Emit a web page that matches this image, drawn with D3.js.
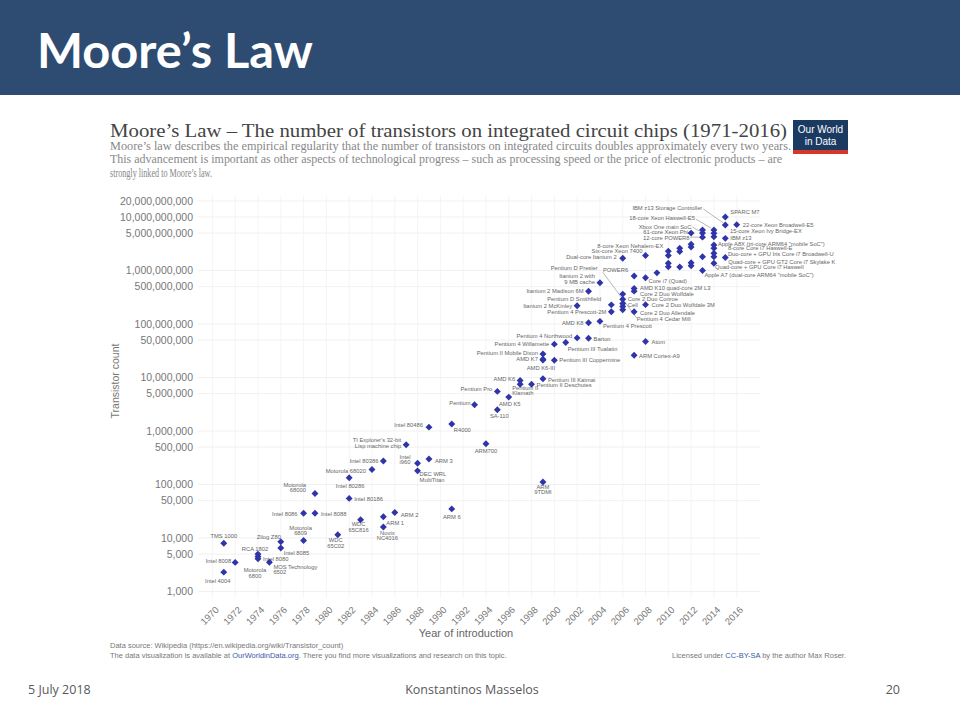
<!DOCTYPE html>
<html>
<head>
<meta charset="utf-8">
<script src="https://cdn.jsdelivr.net/npm/d3@7"></script>
<style>
  body { margin: 0; background: #fff; }
  svg { display: block; }
</style>
</head>
<body>
<script>
// chips: year of introduction, transistor count, name
var years = [
  1971, 1971, 1972, 1974, 1974, 1974, 1975, 1976, 1976, 1978, 1978, 1979, 1979,
  1981, 1982, 1982, 1983, 1984, 1985, 1985, 1985, 1986, 1987, 1988, 1988, 1989,
  1989, 1991, 1991, 1993, 1994, 1995, 1995, 1996, 1997, 1997, 1998, 1999, 1999,
  1999, 1999, 1999, 2000, 2000, 2001, 2002, 2002, 2003, 2003, 2003, 2004, 2004,
  2005, 2005, 2006, 2006, 2006, 2006, 2006, 2006, 2007, 2007, 2007, 2007, 2007,
  2008, 2008, 2008, 2008, 2009, 2010, 2010, 2010, 2010, 2011, 2011, 2011, 2012,
  2012, 2012, 2012, 2012, 2013, 2013, 2013, 2013, 2013, 2014, 2014, 2014, 2014,
  2014, 2014, 2014, 2014, 2015, 2015, 2015, 2015, 2016
];
var counts = [
  2300, 8000, 3500, 5000, 4500, 4100, 3510, 8500, 6500, 9000, 29000, 29000, 68000,
  11500, 55000, 134000, 22000, 190000, 275000, 25000, 16000, 30000, 553000, 250000, 180000, 300000,
  1180000, 1350000, 35000, 3100000, 578977, 5500000, 2500000, 4300000, 7500000, 8800000, 7500000, 9500000, 111000,
  22000000, 27400000, 21300000, 21000000, 42000000, 45000000, 55000000, 220000000, 54300000, 105900000, 410000000, 112000000, 592000000,
  228000000, 169000000, 362000000, 291000000, 241000000, 212000000, 184000000, 1700000000, 789000000, 463000000, 411000000, 169000000, 26000000,
  1900000000, 731000000, 230000000, 47000000, 904000000, 2300000000, 1900000000, 1370000000, 1170000000, 2600000000, 2270000000, 1160000000, 5000000000,
  3100000000, 2750000000, 1400000000, 1230000000, 5700000000, 5000000000, 4200000000, 1810000000, 1000000000, 5700000000, 4960000000, 4280000000, 3000000000,
  2600000000, 2100000000, 1810000000, 1370000000, 10000000000, 7100000000, 3990000000, 1750000000, 7200000000
];
var names = [
  'Intel 4004', 'TMS 1000', 'Intel 8008', 'RCA 1802', 'Intel 8080', 'Motorola 6800', 'MOS Technology 6502',
  'Zilog Z80', 'Intel 8085', 'Motorola 6809', 'Intel 8086', 'Intel 8088', 'Motorola 68000',
  'WDC 65C02', 'Intel 80186', 'Intel 80286', 'WDC 65C816', 'Motorola 68020', 'Intel 80386', 'ARM 1',
  'Novix NC4016', 'ARM 2', "TI Explorer's 32-bit Lisp machine chip", 'Intel i960', 'DEC WRL MultiTitan', 'ARM 3',
  'Intel 80486', 'R4000', 'ARM 6', 'Pentium', 'ARM700', 'Pentium Pro', 'SA-110', 'AMD K5', 'Pentium II Klamath',
  'AMD K6', 'Pentium II Deschutes', 'Pentium III Katmai', 'ARM 9TDMI',
  'AMD K7', 'Pentium II Mobile Dixon', 'AMD K6-III', 'Pentium III Coppermine', 'Pentium 4 Willamette',
  'Pentium III Tualatin', 'Pentium 4 Northwood', 'Itanium 2 McKinley', 'Barton', 'AMD K8', 'Itanium 2 Madison 6M',
  'Pentium 4 Prescott', 'Itanium 2 with 9 MB cache',
  'Pentium D Smithfield', 'Pentium 4 Prescott-2M', 'Pentium D Presler', 'Core 2 Duo Conroe', 'Cell', 'Xenon',
  'Pentium 4 Cedar Mill', 'Dual-core Itanium 2', 'POWER6', 'AMD K10 quad-core 2M L3', 'Core 2 Duo Wolfdale',
  'Core 2 Duo Allendale', 'ARM Cortex-A9',
  'Six-core Xeon 7400', 'Core i7 (Quad)', 'Core 2 Duo Wolfdale 3M', 'Atom', 'Six-core Opteron 2400',
  '8-core Xeon Nehalem-EX', 'Quad-core Itanium Tukwila', 'POWER7', 'Six-core Core i7 (Gulftown)',
  '10-core Xeon Westmere-EX', 'Six-core Core i7/8-core Xeon E5', 'Quad-core + GPU Core i7 Sandy Bridge', '61-core Xeon Phi',
  '8-core Itanium Poulson', 'Six-core zEC12', 'Quad-core + GPU Core i7 Ivy Bridge', 'Dual-core + GPU Core i7 Ivy Bridge',
  '18-core Xeon Haswell-E5 (2013)', 'Xbox One main SoC', '12-core POWER8', 'Six-core Core i7 Ivy Bridge E',
  'Apple A7 (dual-core ARM64 "mobile SoC")', '18-core Xeon Haswell-E5', '15-core Xeon Haswell', '15-core Xeon Ivy Bridge-EX',
  'Apple A8X (tri-core ARM64 "mobile SoC")',
  '8-core Core i7 Haswell-E', 'Duo-core + GPU Iris Core i7 Broadwell-U', 'Six-core Core i7 Haswell-E', 'Quad-core + GPU Core i7 Haswell',
  'SPARC M7', 'IBM z13 Storage Controller', 'IBM z13', 'Quad-core + GPU GT2 Core i7 Skylake K', '22-core Xeon Broadwell-E5'
];

var yTicks = [1e3, 5e3, 1e4, 5e4, 1e5, 5e5, 1e6, 5e6, 1e7, 5e7, 1e8, 5e8, 1e9, 5e9, 1e10, 2e10];
var xTicks = [1970, 1972, 1974, 1976, 1978, 1980, 1982, 1984, 1986, 1988, 1990, 1992,
  1994, 1996, 1998, 2000, 2002, 2004, 2006, 2008, 2010, 2012, 2014, 2016];

// where each name label sits next to its marker: dx, dy, anchor, lines, leader
var labelPos = {
  'Intel 4004': [-6, 9, 'middle'],
  'TMS 1000': [0, -7, 'middle'],
  'Intel 8008': [-4, -1, 'end'],
  'RCA 1802': [-3, -5, 'middle'],
  'Intel 8080': [5, 2, 'start'],
  'Motorola 6800': [-3, 14, 'middle', ['Motorola', '6800']],
  'MOS Technology 6502': [4, 7, 'start', ['MOS Technology', '6502']],
  'Zilog Z80': [-12, -5, 'middle'],
  'Intel 8085': [3, 5, 'start'],
  'Motorola 6809': [-3, -10, 'middle', ['Motorola', '6809']],
  'Intel 8086': [-6, 1, 'end'],
  'Intel 8088': [6, 1, 'start'],
  'Motorola 68000': [-9, -6, 'end', ['Motorola', '68000']],
  'WDC 65C02': [-2, 8, 'middle', ['WDC', '65C02']],
  'Intel 80186': [5, 1, 'start'],
  'Intel 80286': [1, 8, 'middle'],
  'WDC 65C816': [-2, 7, 'middle', ['WDC', '65C816']],
  'Motorola 68020': [-6, 1, 'end'],
  'Intel 80386': [-5, 0, 'end'],
  'ARM 1': [3, 6, 'start'],
  'Novix NC4016': [4, 8, 'middle', ['Novix', 'NC4016']],
  'ARM 2': [6, 2, 'start'],
  "TI Explorer's 32-bit Lisp machine chip": [-5, -2, 'end', ["TI Explorer's 32-bit", 'Lisp machine chip']],
  'Intel i960': [-7, -4, 'end', ['Intel', 'i960']],
  'DEC WRL MultiTitan': [2, 6, 'start', ['DEC WRL', 'MultiTitan']],
  'ARM 3': [6, 2, 'start'],
  'Intel 80486': [-6, -2, 'end'],
  'R4000': [2, 6, 'start'],
  'ARM 6': [0, 8, 'middle'],
  'Pentium': [-4, -2, 'end'],
  'ARM700': [0, 7, 'middle'],
  'Pentium Pro': [-5, -2, 'end'],
  'SA-110': [2, 6, 'middle'],
  'AMD K5': [1, 7, 'middle'],
  'Pentium II Klamath': [-8, 6, 'start', ['Pentium II', 'Klamath']],
  'AMD K6': [-5, -2, 'end'],
  'Pentium II Deschutes': [5, 1, 'start'],
  'Pentium III Katmai': [5, 1, 'start'],
  'ARM 9TDMI': [0, 7, 'middle', ['ARM', '9TDMI']],
  'AMD K7': [-5, 0, 'end'],
  'Pentium II Mobile Dixon': [-5, -1, 'end'],
  'AMD K6-III': [-2, 8, 'middle'],
  'Pentium III Coppermine': [5, 0, 'start'],
  'Pentium 4 Willamette': [-5, 0, 'end'],
  'Pentium III Tualatin': [2, 6, 'start'],
  'Pentium 4 Northwood': [-5, -2, 'end'],
  'Itanium 2 McKinley': [-5, 0, 'end'],
  'Barton': [5, 1, 'start'],
  'AMD K8': [-5, 0, 'end'],
  'Itanium 2 Madison 6M': [-5, 0, 'end'],
  'Pentium 4 Prescott': [3, 5, 'start'],
  'Itanium 2 with 9 MB cache': [-5, -4, 'end', ['Itanium 2 with', '9 MB cache']],
  'Pentium D Smithfield': [-10, -6, 'end'],
  'Pentium 4 Prescott-2M': [-5, 0, 'end'],
  'Pentium D Presler': [-25, -26, 'end', null, [-20, -22, 14, 24]],
  'Core 2 Duo Conroe': [5, 0, 'start'],
  'Cell': [5, 1, 'start'],
  'Pentium 4 Cedar Mill': [14, 9, 'start'],
  'Dual-core Itanium 2': [-6, -1, 'end'],
  'POWER6': [-6, -6, 'end'],
  'AMD K10 quad-core 2M L3': [6, 0, 'start'],
  'Core 2 Duo Wolfdale': [6, 3, 'start'],
  'Core 2 Duo Allendale': [6, 1, 'start'],
  'ARM Cortex-A9': [5, 1, 'start'],
  'Six-core Xeon 7400': [-3, -5, 'end'],
  'Core i7 (Quad)': [3, 3, 'start'],
  'Core 2 Duo Wolfdale 3M': [6, 0, 'start'],
  'Atom': [6, 0, 'start'],
  '8-core Xeon Nehalem-EX': [-5, -5, 'end'],
  '61-core Xeon Phi': [-3, -1, 'end'],
  'Xbox One main SoC': [-11, -6, 'end', null, [-10, -6, -3, -2]],
  '12-core POWER8': [-13, 1, 'end', null, [-12, 0, -3, 0]],
  'Apple A7 (dual-core ARM64 "mobile SoC")': [2, 4, 'start'],
  '18-core Xeon Haswell-E5': [-19, -12, 'end', null, [-18, -11, -3, -2]],
  '15-core Xeon Ivy Bridge-EX': [16, -6, 'start'],
  'Apple A8X (tri-core ARM64 "mobile SoC")': [4, -1, 'start'],
  '8-core Core i7 Haswell-E': [14, 0, 'start'],
  'Duo-core + GPU Iris Core i7 Broadwell-U': [14, 1, 'start'],
  'Quad-core + GPU Core i7 Haswell': [1, 3.5, 'start'],
  'SPARC M7': [5, -5, 'start'],
  'IBM z13 Storage Controller': [-23, -17, 'end', null, [-22, -16, -2, -2]],
  'IBM z13': [5, 0, 'start'],
  'Quad-core + GPU GT2 Core i7 Skylake K': [3, 4, 'start'],
  '22-core Xeon Broadwell-E5': [6, 0, 'start']
};

var W = 960, H = 720;
var svg = d3.select('body').append('svg').attr('width', W).attr('height', H);

// slide header
svg.append('rect').attr('x', 0).attr('y', 0).attr('width', W).attr('height', 95).attr('fill', '#2e4b71');
svg.append('text')
  .attr('x', 37).attr('y', 68)
  .attr('font-family', 'Lato, "Open Sans", sans-serif')
  .attr('font-weight', 'bold')
  .attr('font-size', 47)
  .attr('fill', '#fff')
  .attr('textLength', 276)
  .attr('lengthAdjust', 'spacingAndGlyphs')
  .text('Moore\u2019s Law');

// chart title + subtitle
svg.append('text')
  .attr('x', 110).attr('y', 137)
  .attr('font-family', '"Liberation Serif", "DejaVu Serif", serif')
  .attr('font-size', 19)
  .attr('fill', '#444')
  .attr('textLength', 677)
  .attr('lengthAdjust', 'spacingAndGlyphs')
  .text('Moore\u2019s Law \u2013 The number of transistors on integrated circuit chips (1971-2016)');

var sub = [
  ['Moore\u2019s law describes the empirical regularity that the number of transistors on integrated circuits doubles approximately every two years.', 681],
  ['This advancement is important as other aspects of technological progress \u2013 such as processing speed or the price of electronic products \u2013 are', 672],
  ['strongly linked to Moore\u2019s law.', 102]
];
sub.forEach(function (s, i) {
  svg.append('text')
    .attr('x', 110).attr('y', 149.5 + i * 13.5)
    .attr('font-family', '"Liberation Serif", serif')
    .attr('font-size', 11.5)
    .attr('fill', '#888')
    .attr('textLength', s[1])
    .attr('lengthAdjust', 'spacingAndGlyphs')
    .text(s[0]);
});

// OWID logo
var logo = svg.append('g').attr('transform', 'translate(793,120)');
logo.append('rect').attr('width', 55).attr('height', 34).attr('fill', '#1b3a61');
logo.append('rect').attr('y', 30).attr('width', 55).attr('height', 4).attr('fill', '#d4382b');
logo.append('text').attr('x', 27.5).attr('y', 13).attr('text-anchor', 'middle')
  .attr('font-family', '"Liberation Sans Narrow", "Liberation Sans", sans-serif')
  .attr('font-size', 10).attr('fill', '#fff').text('Our World');
logo.append('text').attr('x', 27.5).attr('y', 25).attr('text-anchor', 'middle')
  .attr('font-family', '"Liberation Sans Narrow", "Liberation Sans", sans-serif')
  .attr('font-size', 10).attr('fill', '#fff').text('in Data');

// scales
var x = d3.scaleLinear().domain([1969, 2018]).range([201, 759.5]);
var y = d3.scaleLog().domain([1e3, 1e10]).range([591.5, 217]);
var gridTop = y(2e10) - 5, gridBottom = 598;

var grid = svg.append('g');
grid.selectAll('.hg').data(yTicks).enter().append('line')
  .attr('x1', 198).attr('x2', 760)
  .attr('y1', function (d) { return y(d); })
  .attr('y2', function (d) { return y(d); })
  .attr('stroke', '#eeeeee').attr('stroke-width', 0.8);
grid.selectAll('.vg').data(xTicks).enter().append('line')
  .attr('y1', gridTop).attr('y2', gridBottom)
  .attr('x1', function (d) { return x(d); })
  .attr('x2', function (d) { return x(d); })
  .attr('stroke', '#f1f1f1').attr('stroke-width', 0.8);

// y axis
var yAxis = svg.append('g')
  .attr('transform', 'translate(198,0)')
  .call(d3.axisLeft(y).tickValues(yTicks).tickSize(0).tickPadding(5).tickFormat(d3.format(',')));
yAxis.select('.domain').remove();
yAxis.selectAll('text')
  .attr('font-family', '"Liberation Sans", Arial, sans-serif')
  .attr('font-size', 10.5)
  .attr('fill', '#777');

svg.append('text')
  .attr('transform', 'translate(119,381) rotate(-90)')
  .attr('text-anchor', 'middle')
  .attr('font-family', '"Liberation Sans", Arial, sans-serif')
  .attr('font-size', 10.5)
  .attr('fill', '#777')
  .text('Transistor count');

// x axis
var xAxis = svg.append('g')
  .attr('transform', 'translate(0,600)')
  .call(d3.axisBottom(x).tickValues(xTicks).tickSize(0).tickFormat(d3.format('d')));
xAxis.select('.domain').remove();
xAxis.selectAll('text')
  .attr('font-family', '"Liberation Sans", Arial, sans-serif')
  .attr('font-size', 9.5)
  .attr('fill', '#777')
  .attr('text-anchor', 'end')
  .attr('dy', '0.35em')
  .attr('transform', 'translate(2,6) rotate(-45)');

svg.append('text')
  .attr('x', 466).attr('y', 637)
  .attr('text-anchor', 'middle')
  .attr('font-family', '"Liberation Sans", Arial, sans-serif')
  .attr('font-size', 11)
  .attr('fill', '#666')
  .text('Year of introduction');

// points
var data = years.map(function (yr, i) {
  return { year: yr, count: counts[i], name: names[i] };
});

var labels = svg.append('g')
  .attr('font-family', '"Liberation Sans", Arial, sans-serif')
  .attr('font-size', 5.8)
  .attr('fill', '#666');

data.forEach(function (d) {
  var p = labelPos[d.name];
  if (!p) return;
  var px = x(d.year), py = y(d.count);
  if (p[4]) {
    labels.append('line')
      .attr('x1', px + p[4][0]).attr('y1', py + p[4][1])
      .attr('x2', px + p[4][2]).attr('y2', py + p[4][3])
      .attr('stroke', '#999').attr('stroke-width', 0.7);
  }
  var lines = p[3] || [d.name];
  var t = labels.append('text')
    .attr('text-anchor', p[2])
    .attr('x', px + p[0])
    .attr('y', py + p[1] - (lines.length - 1) * 2.5);
  lines.forEach(function (ln, k) {
    t.append('tspan')
      .attr('x', px + p[0])
      .attr('dy', k === 0 ? '0.35em' : 5.5)
      .text(ln);
  });
});

svg.append('g').selectAll('path').data(data).enter().append('path')
  .attr('d', d3.symbol().type(d3.symbolSquare).size(24))
  .attr('transform', function (d) {
    return 'translate(' + x(d.year) + ',' + y(d.count) + ') rotate(45)';
  })
  .attr('fill', '#2f35a8');

// sources
var foot = svg.append('g')
  .attr('font-family', '"Liberation Sans", Arial, sans-serif')
  .attr('font-size', 7.5)
  .attr('fill', '#777');
foot.append('text').attr('x', 110).attr('y', 648)
  .text('Data source: Wikipedia (https://en.wikipedia.org/wiki/Transistor_count)');
var f2 = foot.append('text').attr('x', 110).attr('y', 658);
f2.append('tspan').text('The data visualization is available at ');
f2.append('tspan').attr('fill', '#3c5aa6').text('OurWorldinData.org');
f2.append('tspan').text('. There you find more visualizations and research on this topic.');
var f3 = foot.append('text').attr('x', 846).attr('y', 658).attr('text-anchor', 'end');
f3.append('tspan').text('Licensed under ');
f3.append('tspan').attr('fill', '#3c5aa6').text('CC-BY-SA');
f3.append('tspan').text(' by the author Max Roser.');

// slide footer
var sf = svg.append('g')
  .attr('font-family', '"Liberation Sans Narrow", "Open Sans", sans-serif')
  .attr('font-size', 12.5)
  .attr('fill', '#595959');
sf.append('text').attr('x', 28).attr('y', 694).text('5 July 2018');
sf.append('text').attr('x', 472).attr('y', 694).attr('text-anchor', 'middle').text('Konstantinos Masselos');
sf.append('text').attr('x', 900).attr('y', 694).attr('text-anchor', 'end').text('20');
</script>
</body>
</html>
